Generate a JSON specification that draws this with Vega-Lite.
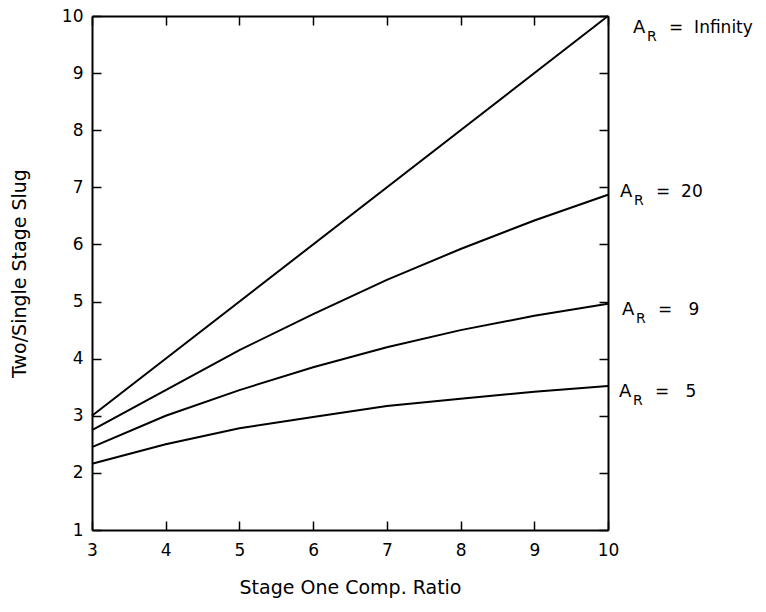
{
  "$schema": "https://vega.github.io/schema/vega-lite/v6.json",
  "width": 516,
  "height": 514,
  "autosize": {"type": "none"},
  "padding": {"left": 92, "top": 16, "right": 158, "bottom": 82},
  "background": "white",
  "config": {
    "view": {"stroke": null},
    "font": "DejaVu Sans",
    "axis": {
      "domainColor": "black", "domainWidth": 2,
      "tickColor": "black", "tickWidth": 1.5,
      "labelColor": "black", "labelFont": "DejaVu Sans", "labelFontSize": 17, "labelFlush": false,
      "titleColor": "black", "titleFont": "DejaVu Sans", "titleFontSize": 19, "titleFontWeight": "normal",
      "grid": false
    }
  },
  "datasets": {
    "curves": [
      {"ratio": 3, "slug": 3.0, "series": "Infinity"},
      {"ratio": 10, "slug": 10.0, "series": "Infinity"},
      {"ratio": 3, "slug": 2.75, "series": "20"},
      {"ratio": 4, "slug": 3.45, "series": "20"},
      {"ratio": 5, "slug": 4.15, "series": "20"},
      {"ratio": 6, "slug": 4.78, "series": "20"},
      {"ratio": 7, "slug": 5.38, "series": "20"},
      {"ratio": 8, "slug": 5.92, "series": "20"},
      {"ratio": 9, "slug": 6.42, "series": "20"},
      {"ratio": 10, "slug": 6.87, "series": "20"},
      {"ratio": 3, "slug": 2.45, "series": "9"},
      {"ratio": 4, "slug": 3.0, "series": "9"},
      {"ratio": 5, "slug": 3.45, "series": "9"},
      {"ratio": 6, "slug": 3.85, "series": "9"},
      {"ratio": 7, "slug": 4.2, "series": "9"},
      {"ratio": 8, "slug": 4.5, "series": "9"},
      {"ratio": 9, "slug": 4.75, "series": "9"},
      {"ratio": 10, "slug": 4.96, "series": "9"},
      {"ratio": 3, "slug": 2.16, "series": "5"},
      {"ratio": 4, "slug": 2.5, "series": "5"},
      {"ratio": 5, "slug": 2.78, "series": "5"},
      {"ratio": 6, "slug": 2.98, "series": "5"},
      {"ratio": 7, "slug": 3.17, "series": "5"},
      {"ratio": 8, "slug": 3.3, "series": "5"},
      {"ratio": 9, "slug": 3.42, "series": "5"},
      {"ratio": 10, "slug": 3.52, "series": "5"}
    ],
    "labels": [
      {"ratio": 10.34, "slug": 9.79, "eq": "=\u00a0\u00a0Infinity"},
      {"ratio": 10.163, "slug": 6.92, "eq": "=\u00a0\u00a020"},
      {"ratio": 10.19, "slug": 4.85, "eq": "=\u00a0\u00a0\u00a09"},
      {"ratio": 10.15, "slug": 3.42, "eq": "=\u00a0\u00a0\u00a05"}
    ]
  },
  "resolve": {"axis": {"x": "independent", "y": "independent"}},
  "layer": [
    {
      "data": {"name": "curves"},
      "mark": {"type": "line", "color": "black", "strokeWidth": 2},
      "encoding": {
        "x": {"field": "ratio", "type": "quantitative",
              "scale": {"domain": [3, 10], "nice": false, "zero": false},
              "axis": {"orient": "bottom", "values": [3,4,5,6,7,8,9,10], "tickSize": -9, "labelPadding": 21,
                       "title": "Stage One Comp. Ratio", "titleX": 258, "titleY": 57, "titleBaseline": "middle"}},
        "y": {"field": "slug", "type": "quantitative",
              "scale": {"domain": [1, 10], "nice": false, "zero": false},
              "axis": {"orient": "left", "values": [1,2,3,4,5,6,7,8,9,10], "tickSize": -9, "labelPadding": 18,
                       "title": "Two/Single Stage Slug", "titleX": -73, "titleY": 257, "titleAngle": -90,
                       "titleAlign": "center", "titleBaseline": "middle"}},
        "detail": {"field": "series"}
      }
    },
    {
      "data": {"name": "labels"},
      "mark": {"type": "text", "align": "left", "baseline": "middle", "fontSize": 18, "color": "black", "clip": false},
      "encoding": {
        "x": {"field": "ratio", "type": "quantitative",
              "axis": {"orient": "top", "values": [3,4,5,6,7,8,9,10], "tickSize": -9, "labels": false, "title": null}},
        "y": {"field": "slug", "type": "quantitative",
              "axis": {"orient": "right", "values": [1,2,3,4,5,6,7,8,9,10], "tickSize": -9, "labels": false, "title": null}},
        "text": {"value": "A"}
      }
    },
    {
      "data": {"name": "labels"},
      "mark": {"type": "text", "align": "left", "baseline": "middle", "fontSize": 14, "dx": 14, "dy": 9, "color": "black", "clip": false},
      "encoding": {
        "x": {"field": "ratio", "type": "quantitative", "axis": null},
        "y": {"field": "slug", "type": "quantitative", "axis": null},
        "text": {"value": "R"}
      }
    },
    {
      "data": {"name": "labels"},
      "mark": {"type": "text", "align": "left", "baseline": "middle", "fontSize": 17, "dx": 36, "color": "black", "clip": false},
      "encoding": {
        "x": {"field": "ratio", "type": "quantitative", "axis": null},
        "y": {"field": "slug", "type": "quantitative", "axis": null},
        "text": {"field": "eq"}
      }
    }
  ]
}
